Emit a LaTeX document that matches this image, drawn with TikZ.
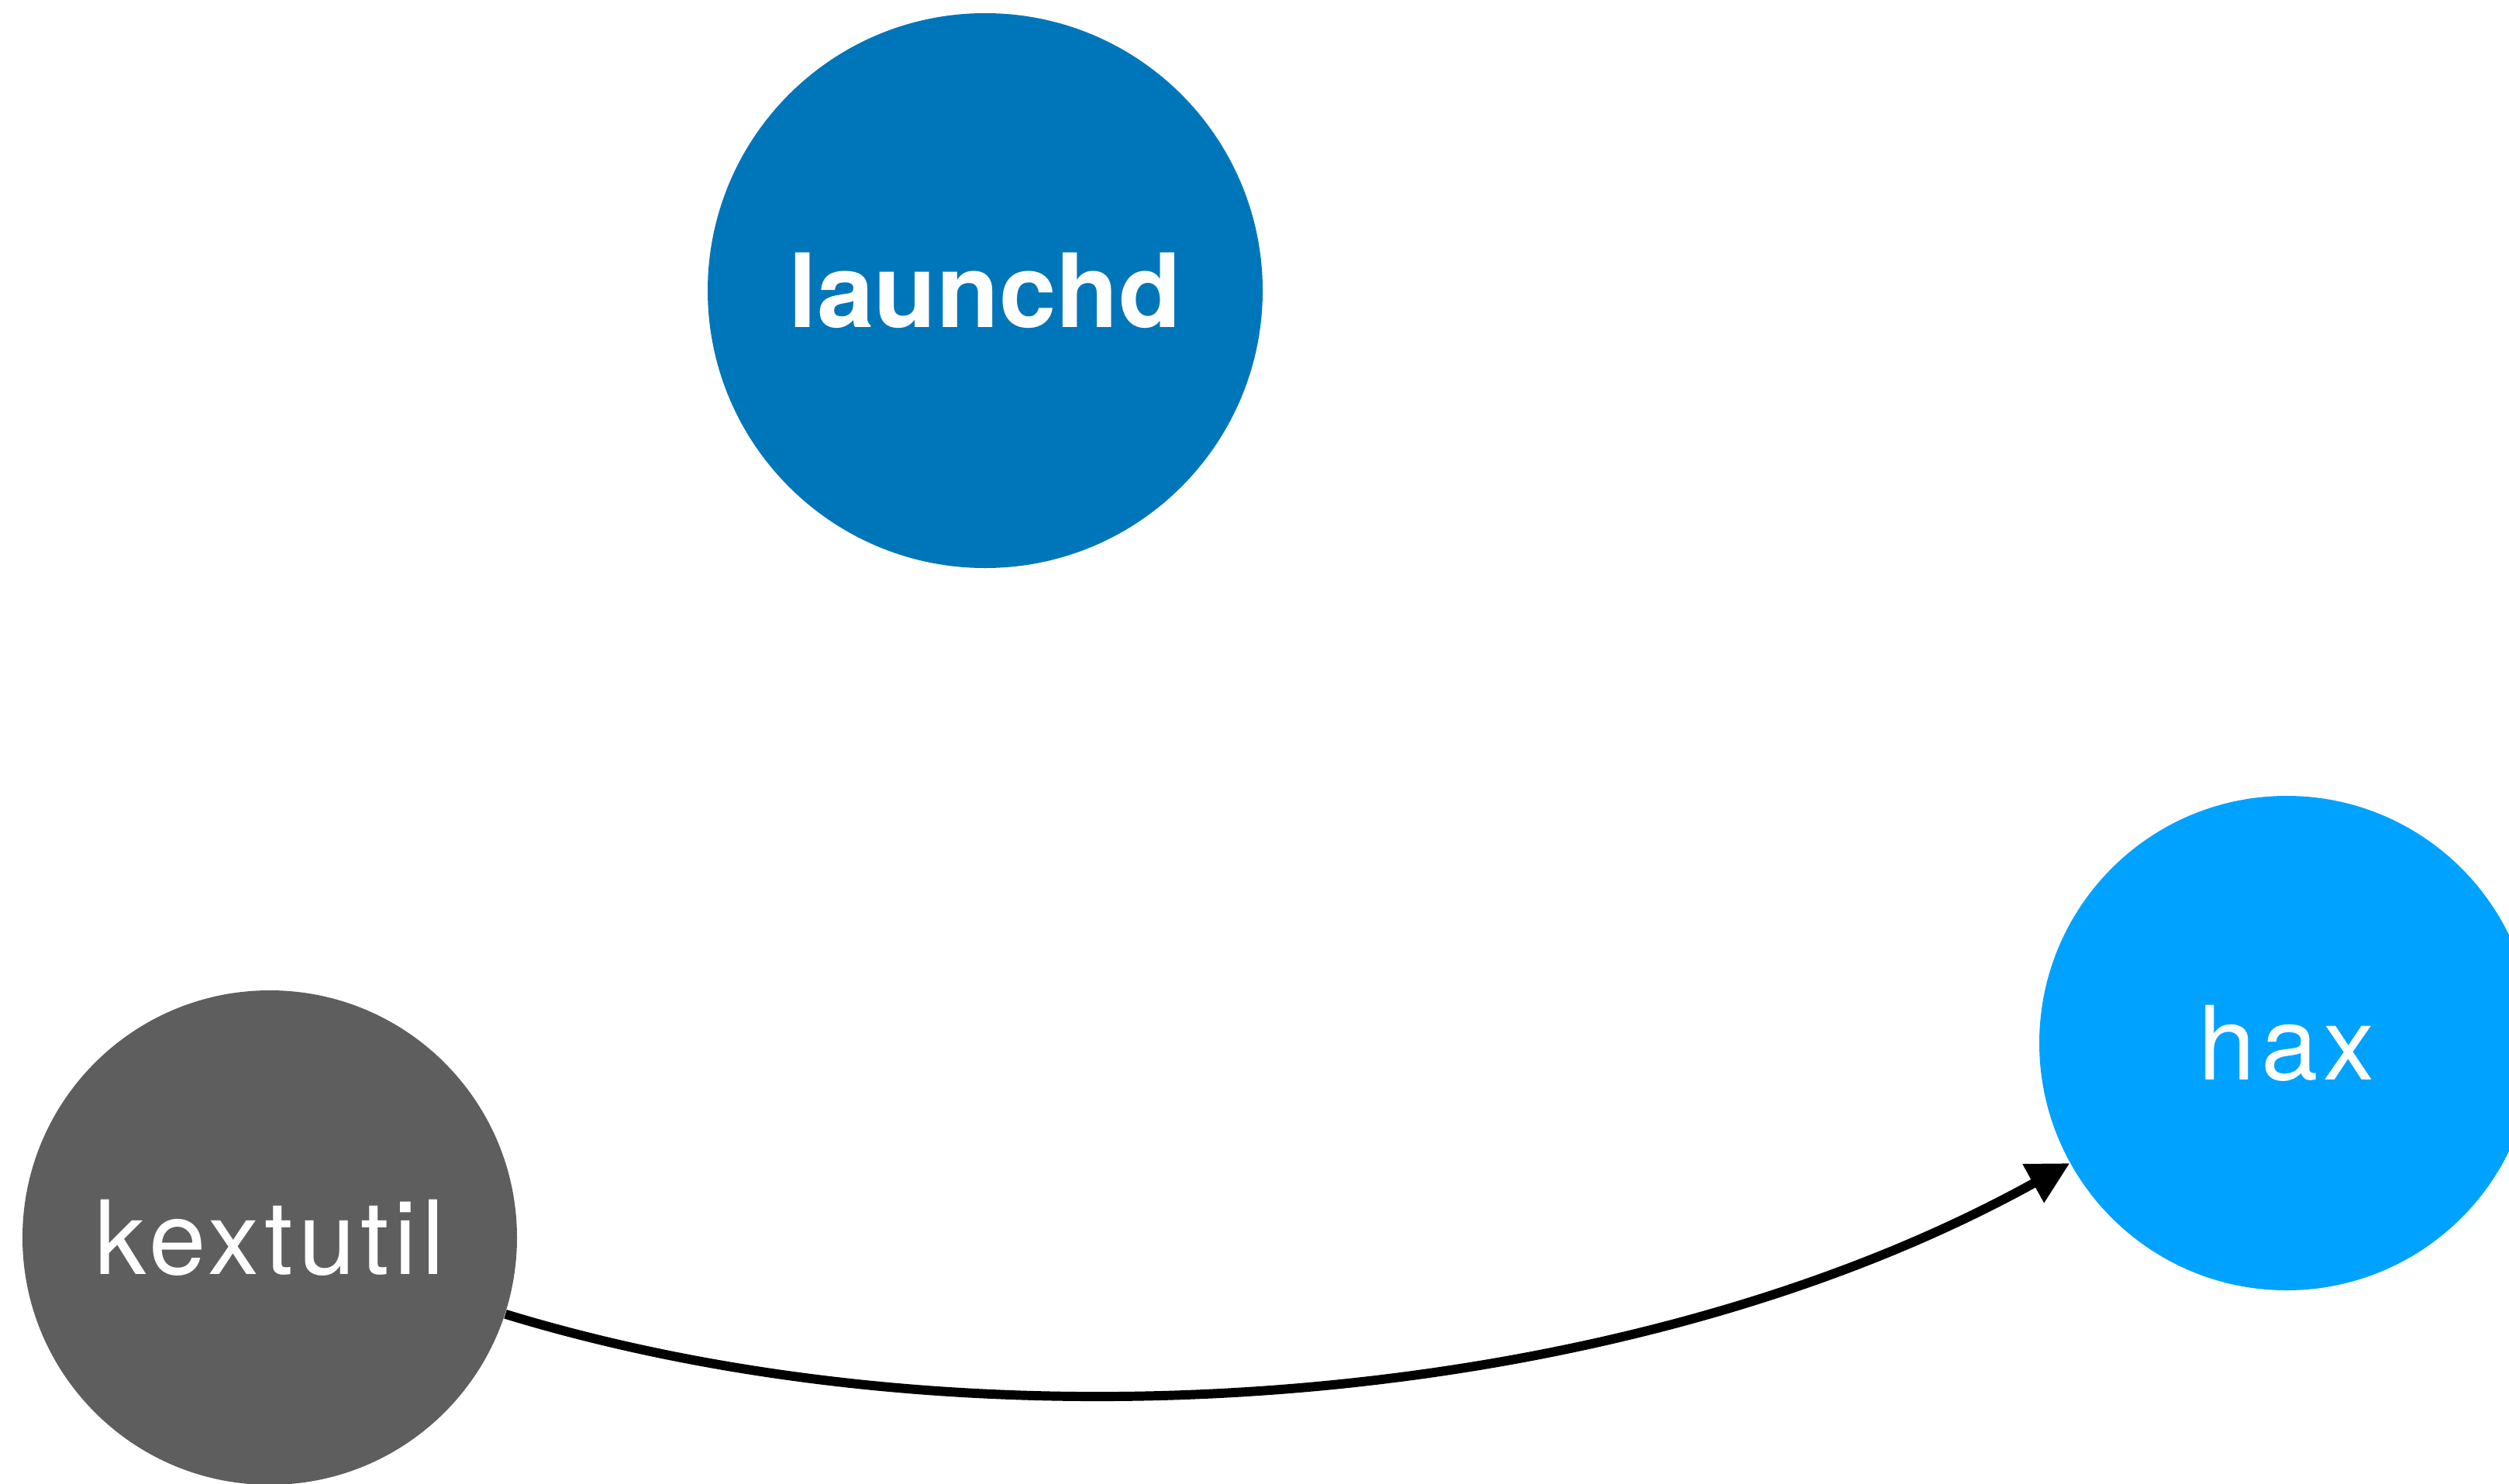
\documentclass[tikz,border=0pt]{standalone}
\usepackage{fontspec}
\setmainfont{TeX Gyre Heros}
\newfontfamily\spacedfont[LetterSpace=5]{TeX Gyre Heros}
\usetikzlibrary{arrows.meta}

\definecolor{darkblue}{HTML}{0076BA}
\definecolor{lightblue}{HTML}{00A2FF}
\definecolor{darkgrey}{HTML}{5E5E5E}

\begin{document}
\begin{tikzpicture}[
    proc/.style={circle, fill=#1, text=white, inner sep=0pt, font=\spacedfont\fontsize{37.6}{45}\selectfont},
    arrow/.style={line width=3.4pt, -{Triangle[length=0.54cm, width=0.54cm]}}
]
\useasboundingbox (0,0) rectangle (32.37,-19.14);
\clip (0,0) rectangle (32.37,-19.14);

% Nodes
\node (launchd) [proc=darkblue, minimum size=7.16cm, font=\fontsize{37.6}{45}\selectfont\bfseries] at (12.71,-3.75) {launchd};
\node (kextutil) [proc=darkgrey, minimum size=6.38cm] at (3.48,-15.97) {kextutil};
\node (hax) [proc=lightblue, minimum size=6.38cm] at (29.50,-13.46) {hax};

% Connections
\draw [arrow] (kextutil.-18) to[out=-17, in=-151, out distance=6.4cm, in distance=6.6cm] (hax.-151);

\end{tikzpicture}
\end{document}
